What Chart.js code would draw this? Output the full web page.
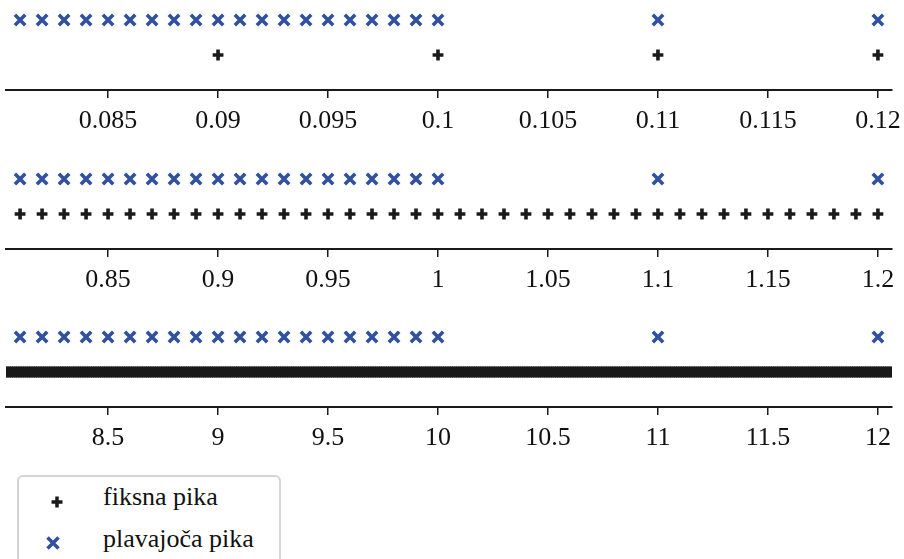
<!DOCTYPE html>
<html>
<head>
<meta charset="utf-8">
<script src="https://cdn.jsdelivr.net/npm/chart.js@4/dist/chart.umd.min.js"></script>
<style>
  body { margin: 0; background: #fff; overflow: hidden; }
  #wrap { position: relative; width: 904px; height: 559px; overflow: hidden; }
  canvas { position: absolute; left: -50px; }
  #legend {
    position: absolute; left: 17px; top: 475px; width: 260px; height: 100px;
    border: 2px solid #d4d4d4; border-radius: 6px; background: #fff;
    font-family: "Liberation Serif", serif; font-size: 26px; color: #111;
  }
  #legend div { position: absolute; left: 84px; white-space: nowrap; }
  #legend svg { position: absolute; }
</style>
</head>
<body>
<div id="wrap">
  <canvas id="c1" width="1004" height="150" style="top:-15px"></canvas>
  <canvas id="c2" width="1004" height="150" style="top:144px"></canvas>
  <canvas id="c3" width="1004" height="150" style="top:302px"></canvas>
  <div id="legend">
    <svg width="14" height="14" style="left:31px;top:18px"><path d="M7 1.5V12.5M1.5 7H12.5" stroke="#1a1a1a" stroke-width="3.5"/></svg>
    <div style="top:5px">fiksna pika</div>
    <svg width="16" height="16" style="left:26px;top:58px"><path d="M2.5 2.5L13.5 13.5M13.5 2.5L2.5 13.5" stroke="#3050a0" stroke-width="3.5"/></svg>
    <div style="top:47px">plavajoča pika</div>
  </div>
</div>
<script>
// panel 1: 0.08 .. 0.12
const floatTop = [0.081, 0.082, 0.083, 0.084, 0.085, 0.086, 0.087, 0.088, 0.089, 0.09,
  0.091, 0.092, 0.093, 0.094, 0.095, 0.096, 0.097, 0.098, 0.099, 0.1, 0.11, 0.12];
const fixedTop = [0.09, 0.1, 0.11, 0.12];
const ticksTop = [0.085, 0.09, 0.095, 0.1, 0.105, 0.11, 0.115, 0.12];
const labelsTop = ['0.085', '0.09', '0.095', '0.1', '0.105', '0.11', '0.115', '0.12'];

// panel 2: 0.8 .. 1.2
const floatMid = [0.81, 0.82, 0.83, 0.84, 0.85, 0.86, 0.87, 0.88, 0.89, 0.9,
  0.91, 0.92, 0.93, 0.94, 0.95, 0.96, 0.97, 0.98, 0.99, 1.0, 1.1, 1.2];
const fixedMid = [0.81, 0.82, 0.83, 0.84, 0.85, 0.86, 0.87, 0.88, 0.89, 0.9,
  0.91, 0.92, 0.93, 0.94, 0.95, 0.96, 0.97, 0.98, 0.99, 1.0,
  1.01, 1.02, 1.03, 1.04, 1.05, 1.06, 1.07, 1.08, 1.09, 1.1,
  1.11, 1.12, 1.13, 1.14, 1.15, 1.16, 1.17, 1.18, 1.19, 1.2];
const ticksMid = [0.85, 0.9, 0.95, 1, 1.05, 1.1, 1.15, 1.2];
const labelsMid = ['0.85', '0.9', '0.95', '1', '1.05', '1.1', '1.15', '1.2'];

// panel 3: 8 .. 12 (fixed grid runs past both ends, cut off by the axes)
const floatBot = [8.1, 8.2, 8.3, 8.4, 8.5, 8.6, 8.7, 8.8, 8.9, 9.0,
  9.1, 9.2, 9.3, 9.4, 9.5, 9.6, 9.7, 9.8, 9.9, 10.0, 11, 12];
const fixedBot = [
  8.00, 8.01, 8.02, 8.03, 8.04, 8.05, 8.06, 8.07, 8.08, 8.09,
  8.10, 8.11, 8.12, 8.13, 8.14, 8.15, 8.16, 8.17, 8.18, 8.19,
  8.20, 8.21, 8.22, 8.23, 8.24, 8.25, 8.26, 8.27, 8.28, 8.29,
  8.30, 8.31, 8.32, 8.33, 8.34, 8.35, 8.36, 8.37, 8.38, 8.39,
  8.40, 8.41, 8.42, 8.43, 8.44, 8.45, 8.46, 8.47, 8.48, 8.49,
  8.50, 8.51, 8.52, 8.53, 8.54, 8.55, 8.56, 8.57, 8.58, 8.59,
  8.60, 8.61, 8.62, 8.63, 8.64, 8.65, 8.66, 8.67, 8.68, 8.69,
  8.70, 8.71, 8.72, 8.73, 8.74, 8.75, 8.76, 8.77, 8.78, 8.79,
  8.80, 8.81, 8.82, 8.83, 8.84, 8.85, 8.86, 8.87, 8.88, 8.89,
  8.90, 8.91, 8.92, 8.93, 8.94, 8.95, 8.96, 8.97, 8.98, 8.99,
  9.00, 9.01, 9.02, 9.03, 9.04, 9.05, 9.06, 9.07, 9.08, 9.09,
  9.10, 9.11, 9.12, 9.13, 9.14, 9.15, 9.16, 9.17, 9.18, 9.19,
  9.20, 9.21, 9.22, 9.23, 9.24, 9.25, 9.26, 9.27, 9.28, 9.29,
  9.30, 9.31, 9.32, 9.33, 9.34, 9.35, 9.36, 9.37, 9.38, 9.39,
  9.40, 9.41, 9.42, 9.43, 9.44, 9.45, 9.46, 9.47, 9.48, 9.49,
  9.50, 9.51, 9.52, 9.53, 9.54, 9.55, 9.56, 9.57, 9.58, 9.59,
  9.60, 9.61, 9.62, 9.63, 9.64, 9.65, 9.66, 9.67, 9.68, 9.69,
  9.70, 9.71, 9.72, 9.73, 9.74, 9.75, 9.76, 9.77, 9.78, 9.79,
  9.80, 9.81, 9.82, 9.83, 9.84, 9.85, 9.86, 9.87, 9.88, 9.89,
  9.90, 9.91, 9.92, 9.93, 9.94, 9.95, 9.96, 9.97, 9.98, 9.99,
  10.00, 10.01, 10.02, 10.03, 10.04, 10.05, 10.06, 10.07, 10.08, 10.09,
  10.10, 10.11, 10.12, 10.13, 10.14, 10.15, 10.16, 10.17, 10.18, 10.19,
  10.20, 10.21, 10.22, 10.23, 10.24, 10.25, 10.26, 10.27, 10.28, 10.29,
  10.30, 10.31, 10.32, 10.33, 10.34, 10.35, 10.36, 10.37, 10.38, 10.39,
  10.40, 10.41, 10.42, 10.43, 10.44, 10.45, 10.46, 10.47, 10.48, 10.49,
  10.50, 10.51, 10.52, 10.53, 10.54, 10.55, 10.56, 10.57, 10.58, 10.59,
  10.60, 10.61, 10.62, 10.63, 10.64, 10.65, 10.66, 10.67, 10.68, 10.69,
  10.70, 10.71, 10.72, 10.73, 10.74, 10.75, 10.76, 10.77, 10.78, 10.79,
  10.80, 10.81, 10.82, 10.83, 10.84, 10.85, 10.86, 10.87, 10.88, 10.89,
  10.90, 10.91, 10.92, 10.93, 10.94, 10.95, 10.96, 10.97, 10.98, 10.99,
  11.00, 11.01, 11.02, 11.03, 11.04, 11.05, 11.06, 11.07, 11.08, 11.09,
  11.10, 11.11, 11.12, 11.13, 11.14, 11.15, 11.16, 11.17, 11.18, 11.19,
  11.20, 11.21, 11.22, 11.23, 11.24, 11.25, 11.26, 11.27, 11.28, 11.29,
  11.30, 11.31, 11.32, 11.33, 11.34, 11.35, 11.36, 11.37, 11.38, 11.39,
  11.40, 11.41, 11.42, 11.43, 11.44, 11.45, 11.46, 11.47, 11.48, 11.49,
  11.50, 11.51, 11.52, 11.53, 11.54, 11.55, 11.56, 11.57, 11.58, 11.59,
  11.60, 11.61, 11.62, 11.63, 11.64, 11.65, 11.66, 11.67, 11.68, 11.69,
  11.70, 11.71, 11.72, 11.73, 11.74, 11.75, 11.76, 11.77, 11.78, 11.79,
  11.80, 11.81, 11.82, 11.83, 11.84, 11.85, 11.86, 11.87, 11.88, 11.89,
  11.90, 11.91, 11.92, 11.93, 11.94, 11.95, 11.96, 11.97, 11.98, 11.99,
  12.00, 12.01, 12.02, 12.03, 12.04, 12.05, 12.06, 12.07, 12.08, 12.09];
const ticksBot = [8.5, 9, 9.5, 10, 10.5, 11, 11.5, 12];
const labelsBot = ['8.5', '9', '9.5', '10', '10.5', '11', '11.5', '12'];

const BLUE = '#3050a0';
const BLACK = '#1a1a1a';

function makePanel(id, floats, fixed, ticks, labels, xmin, xmax) {
    const ctx = document.getElementById(id).getContext('2d');
    new Chart(ctx, {
        type: 'scatter',
        data: {
            datasets: [{
                label: 'fiksna pika',
                data: fixed.map(v => ({ x: v, y: 0 })),
                pointStyle: 'cross',
                radius: 5.4,
                borderWidth: 3.6,
                borderColor: BLACK,
                backgroundColor: BLACK,
                clip: { left: 0, right: 0, top: 20, bottom: 20 }
            }, {
                label: 'plavajoča pika',
                data: floats.map(v => ({ x: v, y: 1 })),
                pointStyle: 'crossRot',
                radius: 7.3,
                borderWidth: 3.6,
                borderColor: BLUE,
                backgroundColor: BLUE,
                clip: 20
            }]
        },
        options: {
            responsive: false,
            animation: false,
            events: [],
            layout: { padding: { left: 56, right: 62, top: 17.5, bottom: 0 } },
            plugins: { legend: { display: false }, tooltip: { enabled: false } },
            scales: {
                x: {
                    type: 'linear',
                    min: xmin,
                    max: xmax,
                    afterBuildTicks: s => { s.ticks = ticks.map(v => ({ value: v })); },
                    afterFit: s => { s.height = 45; },
                    border: { display: true, color: BLACK, width: 2 },
                    grid: { drawOnChartArea: false, drawTicks: true, tickLength: 8, color: BLACK, lineWidth: 1.5 },
                    ticks: {
                        autoSkip: false,
                        maxRotation: 0,
                        padding: 8,
                        color: '#111',
                        font: { family: 'Liberation Serif', size: 26 },
                        callback: (v, i) => labels[i]
                    }
                },
                y: { display: false, min: -1, max: 1.5 }
            }
        }
    });
}

makePanel('c1', floatTop, fixedTop, ticksTop, labelsTop, 0.08036, 0.12064);
makePanel('c2', floatMid, fixedMid, ticksMid, labelsMid, 0.8036, 1.2064);
makePanel('c3', floatBot, fixedBot, ticksBot, labelsBot, 8.036, 12.064);
</script>
</body>
</html>
